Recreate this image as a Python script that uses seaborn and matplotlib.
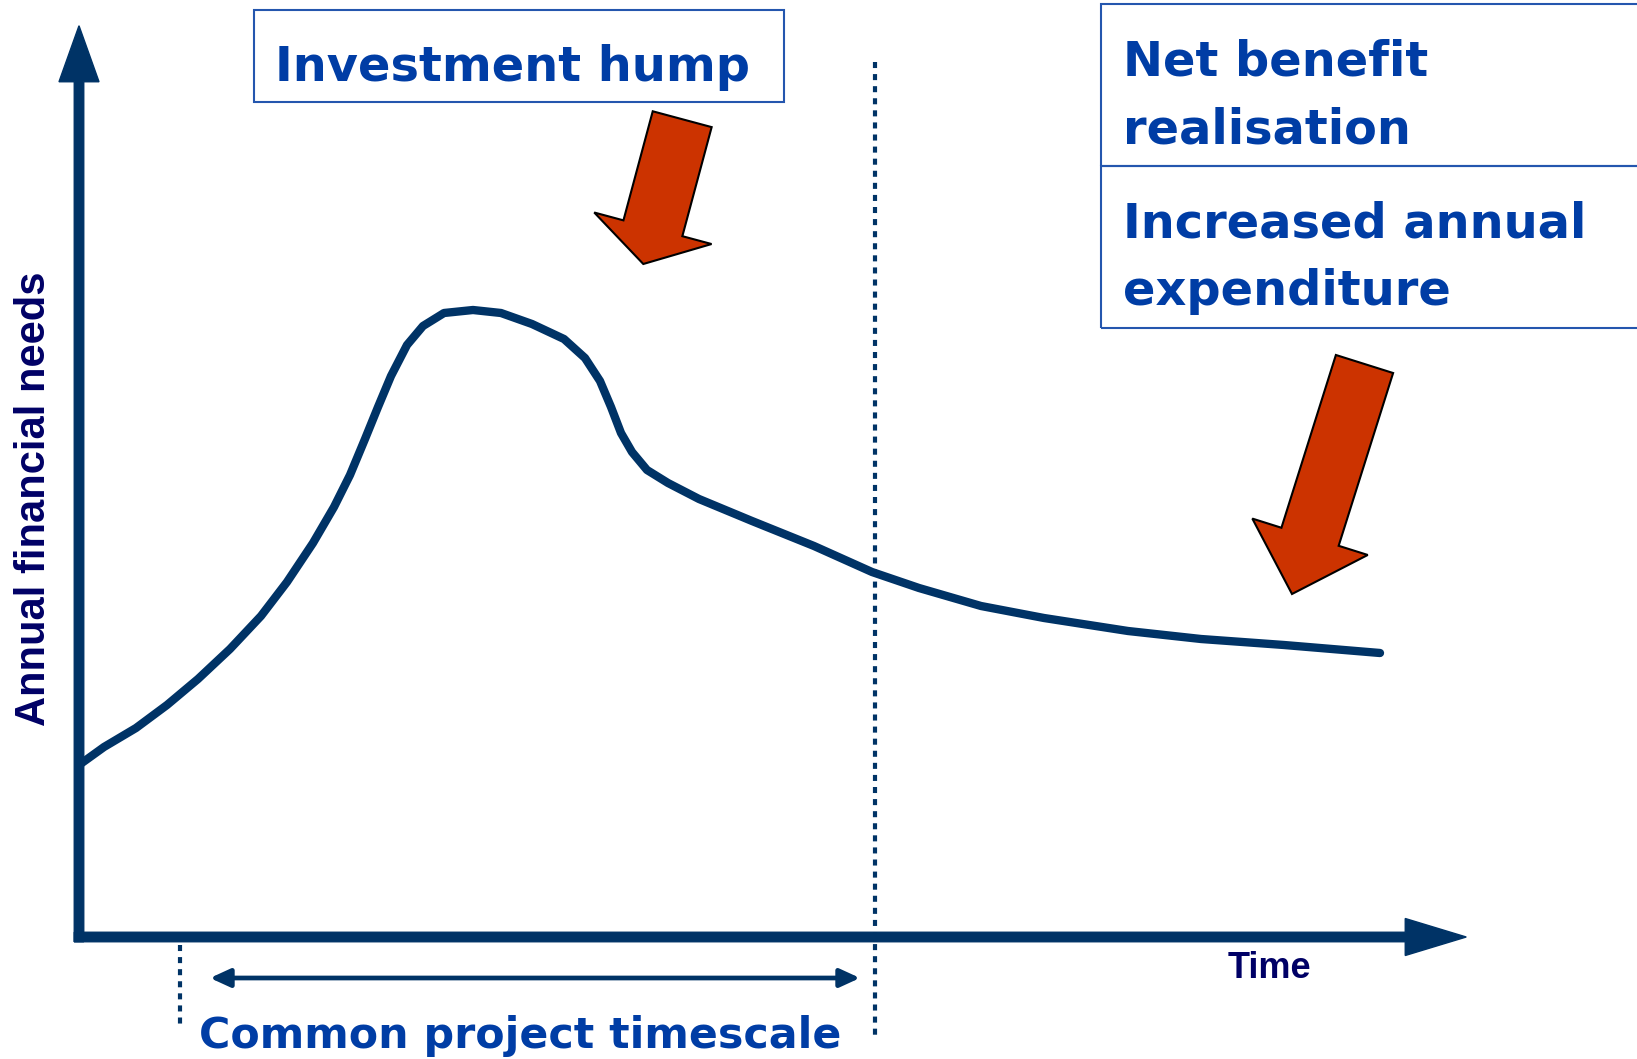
import numpy as np
import pandas as pd
import seaborn as sns
import matplotlib.pyplot as plt
from matplotlib.patches import Rectangle

# curve of annual financial needs over time (units = pixels from the axis origin)
time = [0, 25, 57, 88, 119, 151, 182, 208, 234, 255, 271, 286, 299, 312, 328,
        344, 365, 394, 422, 453, 485, 506, 521, 532, 542, 553, 568, 589, 620,
        673, 735, 793, 840, 902, 965, 1049, 1122, 1205, 1301]
need = [172, 190, 209, 232, 258, 288, 321, 355, 394, 430, 462, 498, 530, 561, 592,
        611, 624, 627, 624, 613, 598, 579, 556, 530, 504, 485, 467, 454, 438,
        416, 391, 365, 349, 331, 319, 306, 298, 292, 284]

axis_color = "#003366"
text_blue = "#003DA5"
label_navy = "#000066"
box_edge = "#2456AE"
arrow_red = "#CC3300"

sns.set_style("white")

fig = plt.figure(figsize=(16.37, 10.59), dpi=100)
ax = fig.add_axes([0, 0, 1, 1])
ax.set_xlim(-79, 1558)
ax.set_ylim(-122, 937)
ax.set_axis_off()

df = pd.DataFrame({"time": time, "need": need})
sns.lineplot(data=df, x="time", y="need", sort=False, ax=ax, color=axis_color,
             linewidth=6, solid_capstyle="round", solid_joinstyle="round", zorder=3)

# axes with arrow heads
ax.arrow(0, -4.75, 0, 916, width=9.5, head_width=40, head_length=56,
         length_includes_head=True, color=axis_color, zorder=4)
ax.arrow(-4.75, 0, 1392, 0, width=9.5, head_width=37, head_length=61,
         length_includes_head=True, color=axis_color, zorder=4)

# dotted markers
ax.plot([796, 796], [875, -102], color=axis_color, lw=3, linestyle=(0, (1.45, 1.45)),
        dash_capstyle="butt", zorder=2)
ax.plot([101, 101], [-8, -87], color=axis_color, lw=3, linestyle=(0, (1.45, 1.45)),
        dash_capstyle="butt", zorder=2)

# common project timescale double arrow
ax.annotate("", xy=(781, -41), xytext=(131, -41),
            arrowprops=dict(arrowstyle="<|-|>,head_length=1.2,head_width=0.55",
                            color=axis_color, lw=3.4, shrinkA=0, shrinkB=0))

# red callout arrows
ax.arrow(603.2, 817.8, -38.9, -144.8, width=61, head_width=121.5, head_length=37,
         length_includes_head=True, facecolor=arrow_red, edgecolor="black", lw=1.5, zorder=5)
ax.arrow(1285.5, 573, -72.5, -230, width=60, head_width=121, head_length=60,
         length_includes_head=True, facecolor=arrow_red, edgecolor="black", lw=1.5, zorder=5)

# boxes
ax.add_patch(Rectangle((175, 835), 530, 92, fill=False, edgecolor=box_edge, lw=1.5))
ax.add_patch(Rectangle((1022, 771), 600, 162, fill=False, edgecolor=box_edge, lw=1.5,
                       clip_on=False))
ax.add_patch(Rectangle((1022, 609), 600, 162, fill=False, edgecolor=box_edge, lw=1.5,
                       clip_on=False))

box_font = dict(family="DejaVu Sans", fontweight="bold", color=text_blue, fontsize=34.5,
                ha="left", va="baseline")
ax.text(196, 856, "Investment hump", **box_font)
ax.text(1044, 862, "Net benefit", **box_font)
ax.text(1044, 793, "realisation", **box_font)
ax.text(1044, 700, "Increased annual", **box_font)
ax.text(1044, 632, "expenditure", **box_font)

ax.text(441, -111, "Common project timescale", family="DejaVu Sans", fontweight="bold",
        color=text_blue, fontsize=30.8, ha="center", va="baseline")

ax.text(1149, -41, "Time", family="Liberation Sans", fontweight="bold",
        color=label_navy, fontsize=26, ha="left", va="baseline")
ax.text(-45, 438, "Annual financial needs", family="Liberation Sans", fontweight="bold",
        color=label_navy, fontsize=30, rotation=90, ha="center", va="center")

plt.savefig("out.png", dpi=100)
